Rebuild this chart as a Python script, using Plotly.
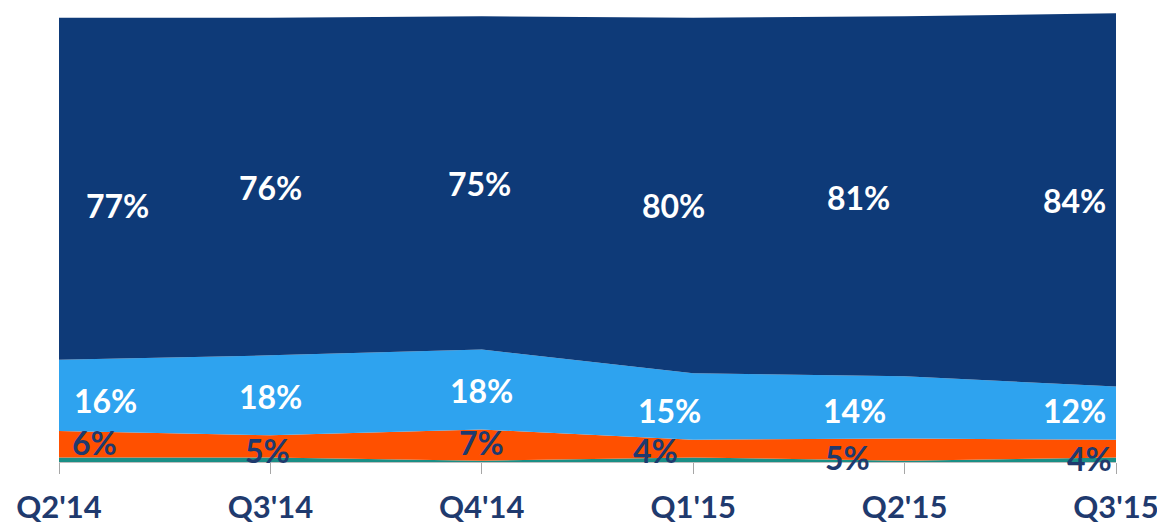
import plotly.graph_objects as go

quarters = ["Q2'14", "Q3'14", "Q4'14", "Q1'15", "Q2'15", "Q3'15"]
other = [1, 1, 0.3, 1, 0.3, 1]
orange_vals = [6, 5, 7, 4, 5, 4]
lightblue_vals = [16, 18, 18, 15, 14, 12]
navy_vals = [77, 76, 75, 80, 81, 84]

# label placement (data units) - kept separate from values
navy_lab_y = [57.8, 61.8, 62.7, 57.8, 59.6, 58.9]
navy_lab_dx = [0.275, 0.0, -0.01, -0.095, -0.22, -0.195]
blue_lab_y = [13.9, 14.8, 16.2, 11.7, 11.7, 11.7]
blue_lab_dx = [0.22, 0.0, 0.0, -0.11, -0.235, -0.195]
orange_lab_y = [4.3, 2.7, 4.3, 2.7, 1.1, 0.9]
orange_lab_dx = [0.17, -0.015, 0.0, -0.18, -0.27, -0.125]

xs = list(range(len(quarters)))
fig = go.Figure()
series = [
    (other, "#1a8f86"),
    (orange_vals, "#ff5000"),
    (lightblue_vals, "#2ea3ef"),
    (navy_vals, "#0e3a78"),
]
for vals, col in series:
    fig.add_trace(go.Scatter(x=xs, y=vals, stackgroup="s", mode="none",
                             fillcolor=col, line=dict(width=0), hoverinfo="skip"))

font_fam = "Lato, 'Open Sans', sans-serif"
for i in xs:
    fig.add_annotation(x=i + navy_lab_dx[i], y=navy_lab_y[i], text=f"<b>{navy_vals[i]}%</b>",
                       showarrow=False, font=dict(family=font_fam, size=32, color="white"))
    fig.add_annotation(x=i + blue_lab_dx[i], y=blue_lab_y[i], text=f"<b>{lightblue_vals[i]}%</b>",
                       showarrow=False, font=dict(family=font_fam, size=32, color="white"))
    fig.add_annotation(x=i + orange_lab_dx[i], y=orange_lab_y[i], text=f"<b>{orange_vals[i]}%</b>",
                       showarrow=False, font=dict(family=font_fam, size=32, color="#1f3a6e"))

fig.update_layout(
    width=1157, height=517,
    margin=dict(l=51, r=49, t=3, b=63),
    paper_bgcolor="white", plot_bgcolor="white",
    showlegend=False,
    xaxis=dict(range=[0, 5], tickmode="array", tickvals=xs,
               ticktext=[f"<b>{q}</b>" for q in quarters],
               showgrid=False, zeroline=False, showline=True, linecolor="#bfbfbf",
               ticks="outside", ticklen=11, tickcolor="#a6a6a6",
               ticklabelstandoff=7, automargin=False,
               tickfont=dict(family=font_fam, size=31, color="#1f3a6e"),
               fixedrange=True),
    yaxis=dict(range=[0, 101.5], visible=False, fixedrange=True, automargin=False),
)

fig.write_html("out.html")
